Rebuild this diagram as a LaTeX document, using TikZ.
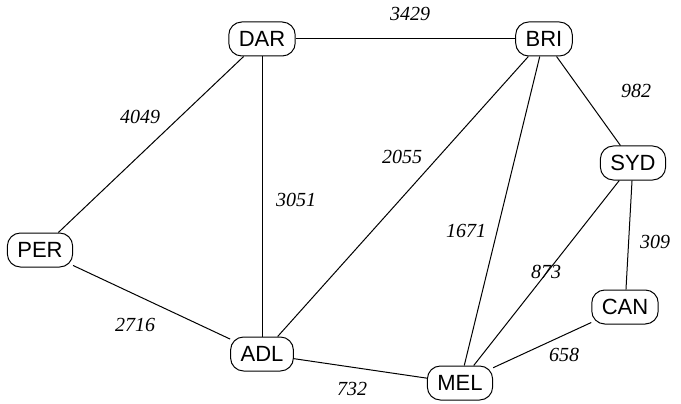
\documentclass[tikz,border=0pt]{standalone}
\usepackage{fontspec}
\setmainfont{Liberation Sans}
\newfontfamily\lblfont{Liberation Serif}
\begin{document}
\begin{tikzpicture}[x=1pt,y=-1pt,line width=1pt,
  city/.style={draw,rounded corners=13pt,minimum height=34pt,inner xsep=10pt,font=\fontsize{22}{24}\selectfont},
  dist/.style={font=\lblfont\itshape\fontsize{20}{22}\selectfont}]
\useasboundingbox (0,0) rectangle (681,404);
\node[city] (DAR) at (262,39) {DAR};
\node[city] (BRI) at (544,39) {BRI};
\node[city] (SYD) at (633,163) {SYD};
\node[city] (PER) at (40,250) {PER};
\node[city] (CAN) at (625,307) {CAN};
\node[city] (ADL) at (262,354) {ADL};
\node[city] (MEL) at (460,383) {MEL};
\draw (DAR) -- (BRI);
\draw (DAR) -- (PER);
\draw (DAR) -- (ADL);
\draw (BRI) -- (ADL);
\draw (BRI) -- (SYD);
\draw (BRI) -- (MEL);
\draw (SYD) -- (MEL);
\draw (SYD) -- (CAN);
\draw (PER) -- (ADL);
\draw (ADL) -- (MEL);
\draw (CAN) -- (MEL);
\node[dist] (l1) at (410,14) {3429};
\node[dist] (l2) at (140,117) {4049};
\node[dist] (l3) at (296,200) {3051};
\node[dist] (l4) at (402,157) {2055};
\node[dist] (l5) at (636,91) {982};
\node[dist] (l6) at (466,231) {1671};
\node[dist] (l7) at (546,272) {873};
\node[dist] (l8) at (655,242) {309};
\node[dist] (l9) at (135,325) {2716};
\node[dist] (l10) at (352,389) {732};
\node[dist] (l11) at (564,355) {658};
\end{tikzpicture}
\end{document}
